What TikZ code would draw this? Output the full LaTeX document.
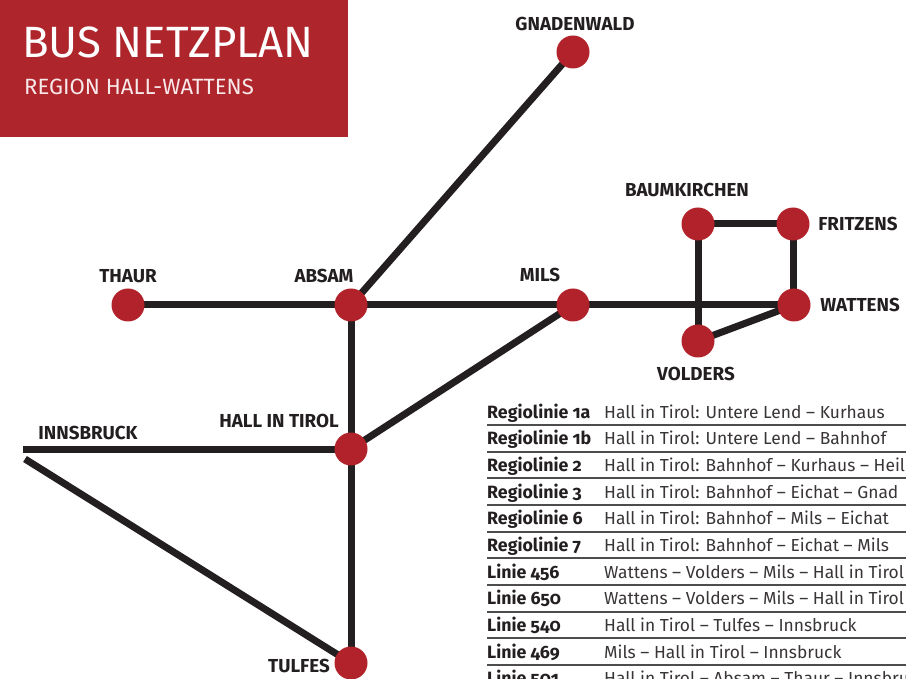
\documentclass[tikz,border=0pt]{standalone}
\usepackage{fontspec}
\setmainfont[Numbers=OldStyle]{Fira Sans}
\usetikzlibrary{backgrounds}
\definecolor{busred}{HTML}{AE262C}
\definecolor{dotred}{HTML}{B2222A}
\definecolor{ink}{HTML}{231F20}
\tikzset{
  x=1pt,y=-1pt,
  stop/.style={circle,fill=dotred,minimum size=33pt,inner sep=0pt},
  place/.style={font=\fontsize{18.8}{20}\selectfont\bfseries,text=ink,inner sep=0pt,anchor=base},
  track/.style={draw=ink,line width=7pt},
  lineid/.style={font=\fontsize{17.8}{20}\selectfont\bfseries,text=ink,inner sep=0pt,anchor=base west},
  route/.style={font=\fontsize{17.4}{20}\selectfont,text=ink!90,inner sep=0pt,anchor=base west},
  rowrule/.style={draw=ink!80,line width=1.3pt}
}
\begin{document}
\begin{tikzpicture}
\useasboundingbox (0,0) rectangle (906,679);
\clip (0,0) rectangle (906,679);
\node[font=\fontsize{43.8}{48}\selectfont,text=white,inner sep=0pt,anchor=base west] (title) at (22,58) {BUS NETZPLAN};
\node[font=\fontsize{22.1}{24}\selectfont,text=white!90!busred,inner sep=0pt,anchor=base west] (subtitle) at (24,95) {REGION HALL-WATTENS};
% stops
\node[stop] (gnadenwald) at (573,52) {};
\node[stop] (thaur) at (128,305) {};
\node[stop] (absam) at (351,305) {};
\node[stop] (mils) at (573,305) {};
\node[stop] (baumkirchen) at (698,224) {};
\node[stop] (fritzens) at (793,224) {};
\node[stop] (wattens) at (794,305) {};
\node[stop] (volders) at (698,341) {};
\node[stop] (hall) at (351,449) {};
\node[stop] (tulfes) at (351,663) {};
\coordinate (innsA) at (23,449);
\coordinate (innsB) at (25,459);
\begin{scope}[on background layer]
\fill[busred] (0,0) rectangle (348,137);
\draw[track] (absam.center) -- (gnadenwald.center);
\draw[track] (thaur.center) -- (absam.center);
\draw[track] (absam.center) -- (mils.center);
\draw[track] (mils.center) -- (wattens.center);
\draw[track] (baumkirchen.center) -- (fritzens.center);
\draw[track] (fritzens.center) -- (fritzens.center |- wattens.center);
\draw[track] (baumkirchen.center) -- (volders.center);
\draw[track] (volders.center) -- (wattens.center);
\draw[track] (absam.center) -- (hall.center);
\draw[track] (hall.center) -- (mils.center);
\draw[track] (hall.center) -- (tulfes.center);
\draw[track] (innsA) -- (hall.center);
\draw[track] (innsB) -- (tulfes.center);
\end{scope}
% labels
\node[place] (lg) at (575,31) {GNADENWALD};
\node[place] (lt) at (128,283) {THAUR};
\node[place] (la) at (324,283) {ABSAM};
\node[place] (lm) at (540,282) {MILS};
\node[place] (lb) at (687,197) {BAUMKIRCHEN};
\node[place] (lf) at (858,231) {FRITZENS};
\node[place] (lw) at (860,312) {WATTENS};
\node[place] (lv) at (696,381) {VOLDERS};
\node[place] (lh) at (279,428) {HALL IN TIROL};
\node[place] (li) at (88,439) {INNSBRUCK};
\node[place] (lu) at (299,672) {TULFES};
% table
\foreach \yy in {425,452,478,505,532,558,585,612,638,665}
  \draw[rowrule] (487,\yy) -- (906,\yy);
\node[lineid] (r1) at (487,418) {Regiolinie 1a};
\node[route] (t1) at (604,418) {Hall in Tirol: Untere Lend – Kurhaus};
\node[lineid] (r2) at (487,444) {Regiolinie 1b};
\node[route] (t2) at (604,444) {Hall in Tirol: Untere Lend – Bahnhof};
\node[lineid] (r3) at (487,471) {Regiolinie 2};
\node[route] (t3) at (604,471) {Hall in Tirol: Bahnhof – Kurhaus – Heil};
\node[lineid] (r4) at (487,498) {Regiolinie 3};
\node[route] (t4) at (604,498) {Hall in Tirol: Bahnhof – Eichat – Gnad};
\node[lineid] (r5) at (487,524) {Regiolinie 6};
\node[route] (t5) at (604,524) {Hall in Tirol: Bahnhof – Mils – Eichat};
\node[lineid] (r6) at (487,551) {Regiolinie 7};
\node[route] (t6) at (604,551) {Hall in Tirol: Bahnhof – Eichat – Mils};
\node[lineid] (r7) at (487,578) {Linie 456};
\node[route] (t7) at (604,578) {Wattens – Volders – Mils – Hall in Tirol};
\node[lineid] (r8) at (487,604) {Linie 650};
\node[route] (t8) at (604,604) {Wattens – Volders – Mils – Hall in Tirol};
\node[lineid] (r9) at (487,631) {Linie 540};
\node[route] (t9) at (604,631) {Hall in Tirol – Tulfes – Innsbruck};
\node[lineid] (r10) at (487,658) {Linie 469};
\node[route] (t10) at (604,658) {Mils – Hall in Tirol – Innsbruck};
\node[lineid] (r11) at (487,684) {Linie 501};
\node[route] (t11) at (604,684) {Hall in Tirol – Absam – Thaur – Innsbruck};
\end{tikzpicture}
\end{document}
